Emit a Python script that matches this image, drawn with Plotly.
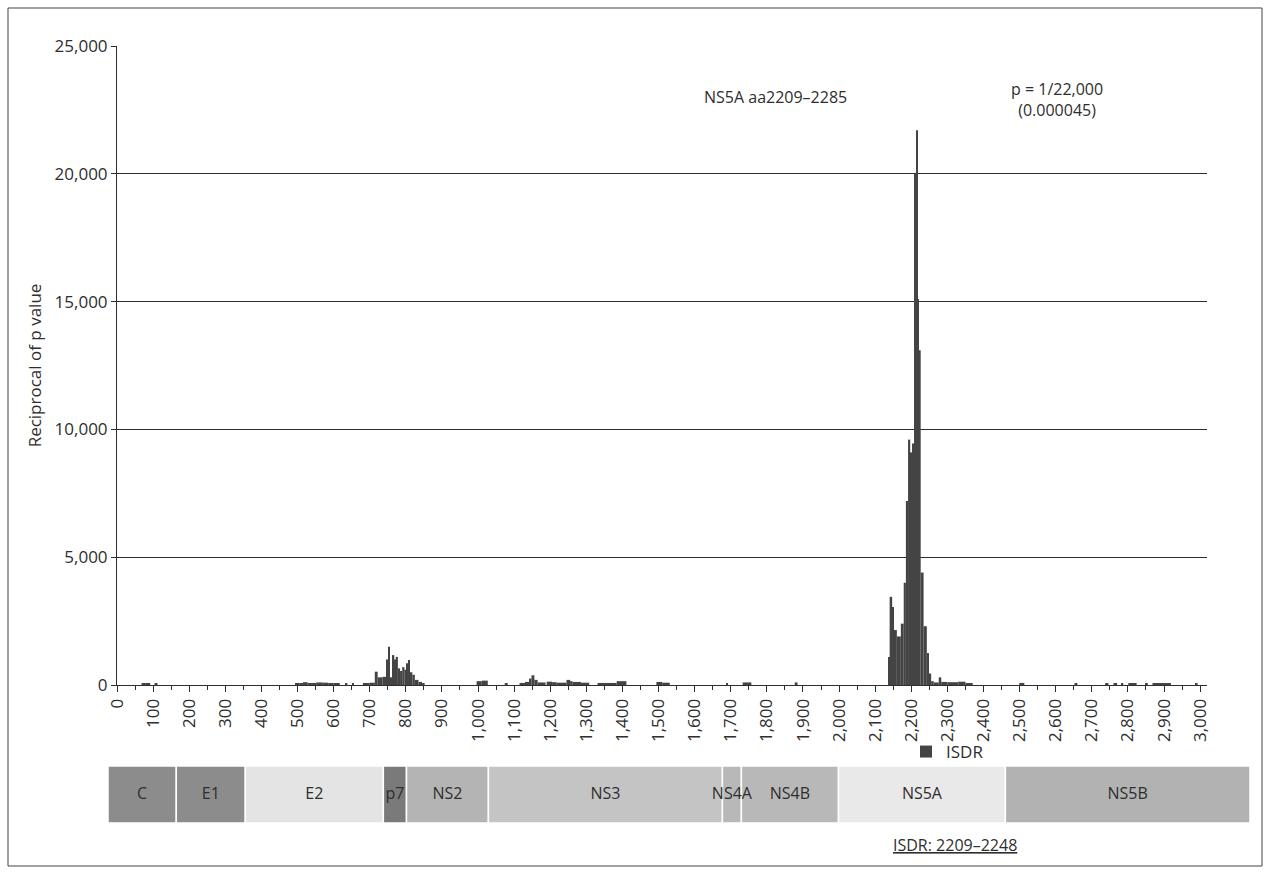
import plotly.graph_objects as go

# ---------------- data ----------------
# amino-acid windows (start, end) and reciprocal p value
bin_lo = [68, 80, 104,
          493, 505, 515, 528, 540, 552, 570, 585, 600, 634, 651,
          681, 700, 714, 722, 735, 747, 751, 756, 764, 768, 772, 778, 784, 790, 796, 802, 806, 811, 818, 825, 835, 845,
          996, 1010, 1074, 1115, 1130, 1143, 1148, 1156, 1165, 1190, 1205, 1218, 1245, 1255, 1262, 1285, 1331, 1384,
          1494, 1510, 1688, 1733, 1877,
          2136, 2140, 2147, 2152, 2160, 2171, 2179, 2185, 2191, 2197, 2202,
          2209, 2213, 2216, 2220, 2226, 2234, 2243,
          2249, 2255, 2262, 2276, 2283, 2300, 2330, 2350,
          2499, 2652, 2737, 2760, 2783, 2801, 2850, 2868, 2988]
bin_hi = [80, 92, 112,
          505, 515, 528, 540, 552, 570, 585, 600, 617, 638, 655,
          700, 714, 722, 735, 747, 751, 756, 764, 768, 772, 778, 784, 790, 796, 802, 806, 811, 818, 825, 835, 845, 852,
          1010, 1027, 1082, 1130, 1143, 1148, 1156, 1165, 1187, 1205, 1218, 1245, 1255, 1262, 1285, 1308, 1384, 1411,
          1510, 1531, 1692, 1757, 1885,
          2140, 2147, 2152, 2160, 2171, 2179, 2185, 2191, 2197, 2202, 2209,
          2213, 2216, 2220, 2226, 2234, 2243, 2249,
          2255, 2262, 2276, 2283, 2300, 2330, 2350, 2370,
          2513, 2660, 2746, 2770, 2787, 2824, 2855, 2919, 2993]
recip_p = [40, 50, 40,
           50, 70, 110, 60, 80, 100, 90, 60, 70, 50, 50,
           60, 90, 520, 300, 320, 1000, 1500, 300, 1170, 1000, 1100, 650, 550, 700, 600, 850, 980, 500, 400, 200, 120, 60,
           150, 170, 60, 80, 120, 250, 380, 200, 100, 130, 110, 90, 200, 150, 120, 90, 80, 150,
           120, 90, 80, 100, 100,
           1100, 3450, 3050, 2150, 1900, 2400, 4000, 7200, 9600, 9100, 9450,
           20000, 21700, 15100, 13100, 4400, 2300, 1250,
           450, 150, 100, 300, 120, 110, 130, 80,
           80, 50, 60, 60, 50, 70, 50, 70, 50]

isdr_lo, isdr_hi = 2209, 2249

x_ticks = list(range(0, 3001, 100))
y_ticks = [0, 5000, 10000, 15000, 20000, 25000]

genes = ["C", "E1", "E2", "p7", "NS2", "NS3", "NS4A", "NS4B", "NS5A", "NS5B"]
gene_start = [0, 180, 362, 726, 787, 1003, 1620, 1670, 1926, 2366]
gene_end = [180, 362, 726, 787, 1003, 1620, 1670, 1926, 2366, 3011]
gene_color = ["#8c8c8c", "#8c8c8c", "#e4e4e4", "#7a7a7a", "#b4b4b4",
              "#c4c4c4", "#b8b8b8", "#b8b8b8", "#e9e9e9", "#b2b2b2"]

# ---------------- figure ----------------
W, H = 1269, 894
ML, MR, MT, MB = 108, 19, 46, 28
PW, PH = W - ML - MR, H - MT - MB
TXT = "#2e2e2e"
FONT = "Open Sans"

def px_x(p):
    return (p - ML) / PW

def px_y(p):
    return (H - MB - p) / PH

isdr_idx = [i for i in range(len(bin_lo)) if bin_lo[i] >= isdr_lo and bin_hi[i] <= isdr_hi]
other_idx = [i for i in range(len(bin_lo)) if i not in isdr_idx]

def bar_trace(idx, name, show):
    return go.Bar(
        x=[(bin_lo[i] + bin_hi[i]) / 2 for i in idx],
        y=[recip_p[i] for i in idx],
        width=[bin_hi[i] - bin_lo[i] for i in idx],
        marker=dict(color="#444444", line=dict(width=0)),
        name=name, showlegend=show, hoverinfo="x+y",
        xaxis="x", yaxis="y",
    )

fig = go.Figure()
fig.add_trace(bar_trace(other_idx, "other", False))
fig.add_trace(bar_trace(isdr_idx, "ISDR", True))

# genome map
fig.add_trace(go.Bar(
    orientation="h",
    y=[0.5] * len(genes),
    x=[e - s for s, e in zip(gene_start, gene_end)],
    base=gene_start,
    width=1,
    marker=dict(color=gene_color, line=dict(color="white", width=1.5)),
    showlegend=False, hoverinfo="skip",
    xaxis="x2", yaxis="y2",
))
fig.add_trace(go.Scatter(
    x=[(s + e) / 2 for s, e in zip(gene_start, gene_end)],
    y=[0.5] * len(genes),
    mode="text", text=genes,
    textfont=dict(size=16, color=TXT, family=FONT),
    showlegend=False, hoverinfo="skip",
    xaxis="x2", yaxis="y2",
))

fig.update_layout(
    width=W, height=H,
    margin=dict(l=ML, r=MR, t=MT, b=MB),
    paper_bgcolor="white", plot_bgcolor="white",
    font=dict(family=FONT, size=17, color=TXT),
    barmode="overlay",
    xaxis=dict(
        domain=[px_x(117), px_x(1207)], range=[0, 3019], anchor="y",
        tickvals=x_ticks, tickformat=",", tickangle=-90,
        ticks="outside", ticklen=6, tickcolor=TXT, tickwidth=1,
        minor=dict(dtick=50, ticks="outside", ticklen=4, tickcolor=TXT),
        showline=True, linecolor=TXT, linewidth=1,
        showgrid=False, zeroline=False,
        tickfont=dict(size=17, color=TXT),
    ),
    yaxis=dict(
        domain=[px_y(685), 1], range=[0, 25000], anchor="x",
        tickvals=y_ticks, tickformat=",",
        ticks="outside", ticklen=5, tickcolor=TXT,
        showline=True, linecolor=TXT, linewidth=1,
        showgrid=True, gridcolor=TXT, gridwidth=1, zeroline=False,
        title=dict(text="Reciprocal of p value", font=dict(size=17, color=TXT), standoff=8),
        tickfont=dict(size=17, color=TXT),
    ),
    xaxis2=dict(domain=[0, 1], range=[0, 3011], anchor="y2", visible=False),
    yaxis2=dict(domain=[px_y(823), px_y(766)], range=[0, 1], anchor="x2", visible=False),
    legend=dict(
        x=px_x(906), y=px_y(734), xanchor="left", yanchor="top",
        font=dict(size=17, color=TXT), bgcolor="rgba(0,0,0,0)",
        itemwidth=30,
    ),
    annotations=[
        dict(text="NS5A aa2209\u20132285", x=1824, y=23000, xref="x", yref="y",
             xanchor="center", yanchor="middle",
             showarrow=False, font=dict(size=16, color=TXT)),
        dict(text="p = 1/22,000<br>(0.000045)", x=2604, y=22900, xref="x", yref="y",
             xanchor="center", yanchor="middle",
             showarrow=False, font=dict(size=16, color=TXT)),
        dict(text="<u>ISDR: 2209\u20132248</u>", x=px_x(955), y=px_y(845),
             xref="paper", yref="paper", xanchor="center", yanchor="middle",
             showarrow=False, font=dict(size=16, color=TXT)),
    ],
    shapes=[
        dict(type="rect", xref="paper", yref="paper",
             x0=px_x(8), x1=px_x(1262), y0=px_y(866), y1=px_y(8),
             line=dict(color="#444444", width=1), fillcolor="rgba(0,0,0,0)", layer="below"),
    ],
)

fig.write_html("out.html")
